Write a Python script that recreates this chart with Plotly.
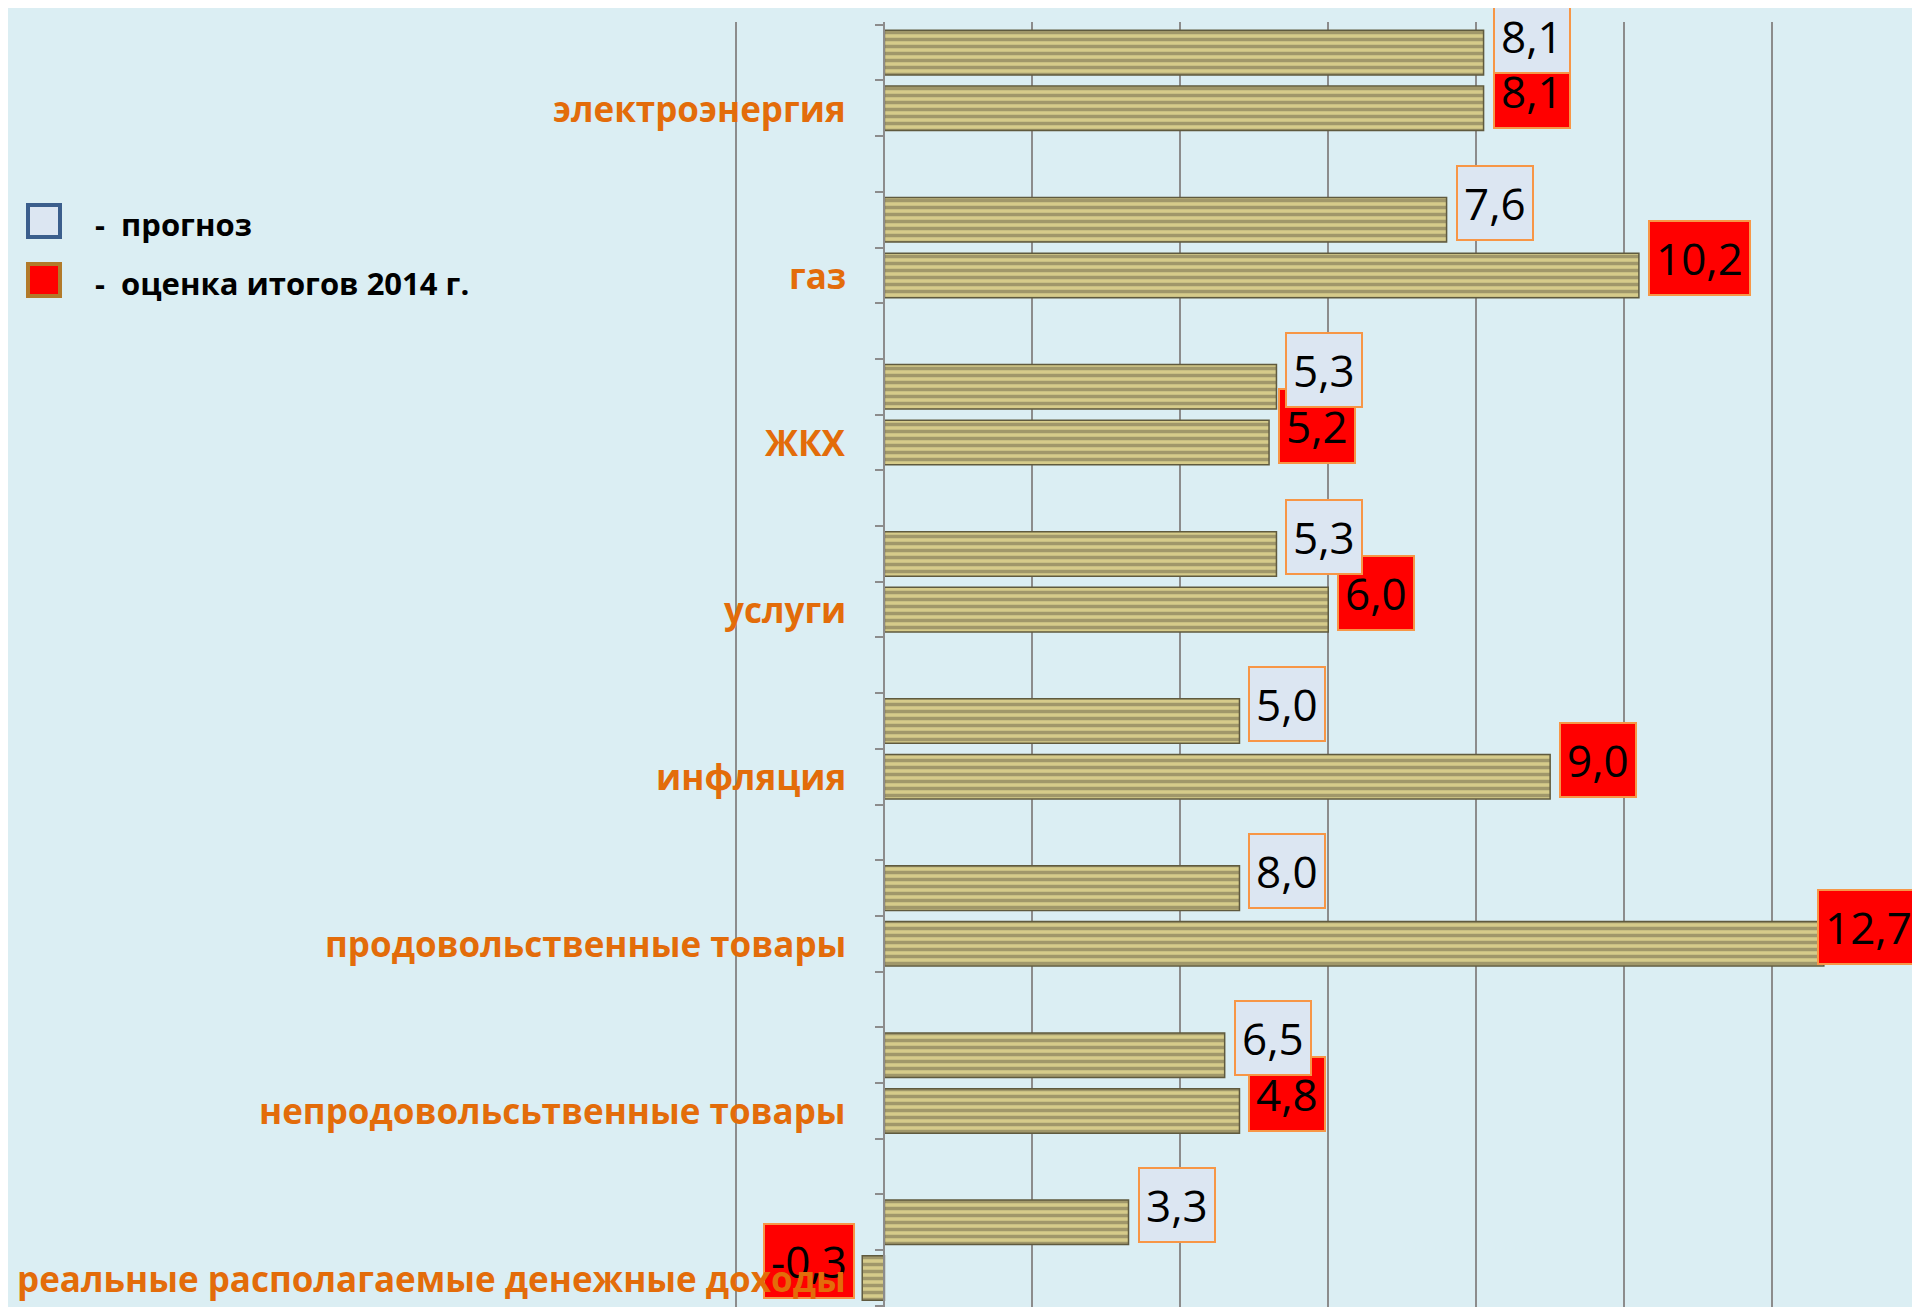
import plotly.graph_objects as go

categories = [
    "электроэнергия",
    "газ",
    "ЖКХ",
    "услуги",
    "инфляция",
    "продовольственные товары",
    "непродовольсьтвенные товары",
    "реальные располагаемые денежные доходы",
]

# bar lengths as drawn in the picture
prognoz = [8.1, 7.6, 5.3, 5.3, 4.8, 4.8, 4.6, 3.3]
ocenka = [8.1, 10.2, 5.2, 6.0, 9.0, 12.7, 4.8, -0.3]

# value labels as printed in the boxes
prognoz_labels = ["8,1", "7,6", "5,3", "5,3", "5,0", "8,0", "6,5", "3,3"]
ocenka_labels = ["8,1", "10,2", "5,2", "6,0", "9,0", "12,7", "4,8", "-0,3"]

legend_names = ["прогноз", "оценка итогов 2014 г."]

# the page adds an 8px body margin, so the figure is 8px smaller
OFF = 8
W, H = 1920 - OFF, 1307 - OFF
L, R, T, B = 727, 0, 14, 0
PW, PH = W - L - R, H - T - B
XR = [-2.02, 14.0]

BG = "#DBEEF3"
GRID = "#8C8C8C"
ORANGE = "#E36C0A"

# three slots per category: прогноз, оценка, empty
pos_prognoz = [3 * i + 0.5 for i in range(len(categories))]
pos_ocenka = [3 * i + 1.5 for i in range(len(categories))]


def px_x(px):
    return (px - OFF - L) / PW


def px_y(py):
    return 1 - (py - OFF - T) / PH


bar_style = dict(
    color="#D6CB8A",
    line=dict(color="#5F5A3E", width=1.5),
    pattern=dict(shape="-", fgcolor="#69634A", size=7, solidity=0.5),
)

fig = go.Figure()
fig.add_trace(go.Bar(x=prognoz, y=pos_prognoz, orientation="h", width=0.8,
                     marker=bar_style, name=legend_names[0], showlegend=False))
fig.add_trace(go.Bar(x=ocenka, y=pos_ocenka, orientation="h", width=0.8,
                     marker=bar_style, name=legend_names[1], showlegend=False))

annotations = []
box_font = dict(family="Open Sans", size=44, color="black")
for vals, labels, pos, fill in [(ocenka, ocenka_labels, pos_ocenka, "#FF0000"),
                                (prognoz, prognoz_labels, pos_prognoz, "#DCE6F2")]:
    for v, t, p in zip(vals, labels, pos):
        a = dict(
            x=v, y=p, xref="x", yref="y", text=t, showarrow=False,
            xanchor="left" if v >= 0 else "right",
            xshift=9 if v >= 0 else -7, yshift=17,
            bgcolor=fill, bordercolor="#F79646", borderwidth=2, borderpad=6,
            font=box_font,
        )
        if v > XR[1] - 1.5:
            # no room on the right: pin the box to the plot edge
            a.update(x=1, xref="paper", xanchor="right", xshift=0)
        annotations.append(a)

# category labels next to the zero axis (drawn over the value boxes)
for c, p in zip(categories, pos_ocenka):
    annotations.append(dict(
        x=0, y=p, xref="x", yref="y", text=c, showarrow=False,
        xanchor="right", xshift=-36, yanchor="middle",
        font=dict(family="Open Sans", size=35, color=ORANGE, weight="bold"),
    ))

# custom legend
leg_font = dict(family="Open Sans", size=31, color="black", weight="bold")
annotations.append(dict(x=px_x(93), y=px_y(224), xref="paper", yref="paper",
                        text="-  " + legend_names[0], showarrow=False,
                        xanchor="left", yanchor="middle", font=leg_font))
annotations.append(dict(x=px_x(93), y=px_y(283), xref="paper", yref="paper",
                        text="-  " + legend_names[1], showarrow=False,
                        xanchor="left", yanchor="middle", font=leg_font))

shapes = [
    dict(type="rect", xref="paper", yref="paper", x0=px_x(28), x1=px_x(60),
         y0=px_y(237), y1=px_y(205), fillcolor="#DCE6F2",
         line=dict(color="#3B5E8C", width=4)),
    dict(type="rect", xref="paper", yref="paper", x0=px_x(28), x1=px_x(60),
         y0=px_y(296), y1=px_y(264), fillcolor="#FF0000",
         line=dict(color="#B27A2A", width=4)),
]

fig.update_layout(
    width=W, height=H,
    margin=dict(l=L, r=R, t=T, b=B),
    paper_bgcolor=BG, plot_bgcolor=BG,
    barmode="overlay",
    showlegend=False,
    annotations=annotations,
    shapes=shapes,
    xaxis=dict(range=XR, showticklabels=False, showgrid=True, gridcolor=GRID,
               gridwidth=1.5, tick0=0, dtick=2, zeroline=False, showline=False),
    yaxis=dict(
        range=[23.02, -0.05], anchor="free",
        position=(0 - XR[0]) / (XR[1] - XR[0]),
        showline=True, linecolor=GRID, linewidth=1.5,
        showgrid=False, zeroline=False, showticklabels=False,
        tickmode="linear", tick0=0, dtick=1,
        ticks="outside", ticklen=9, tickwidth=1.5, tickcolor=GRID,
    ),
)

fig.write_html("out.html")
